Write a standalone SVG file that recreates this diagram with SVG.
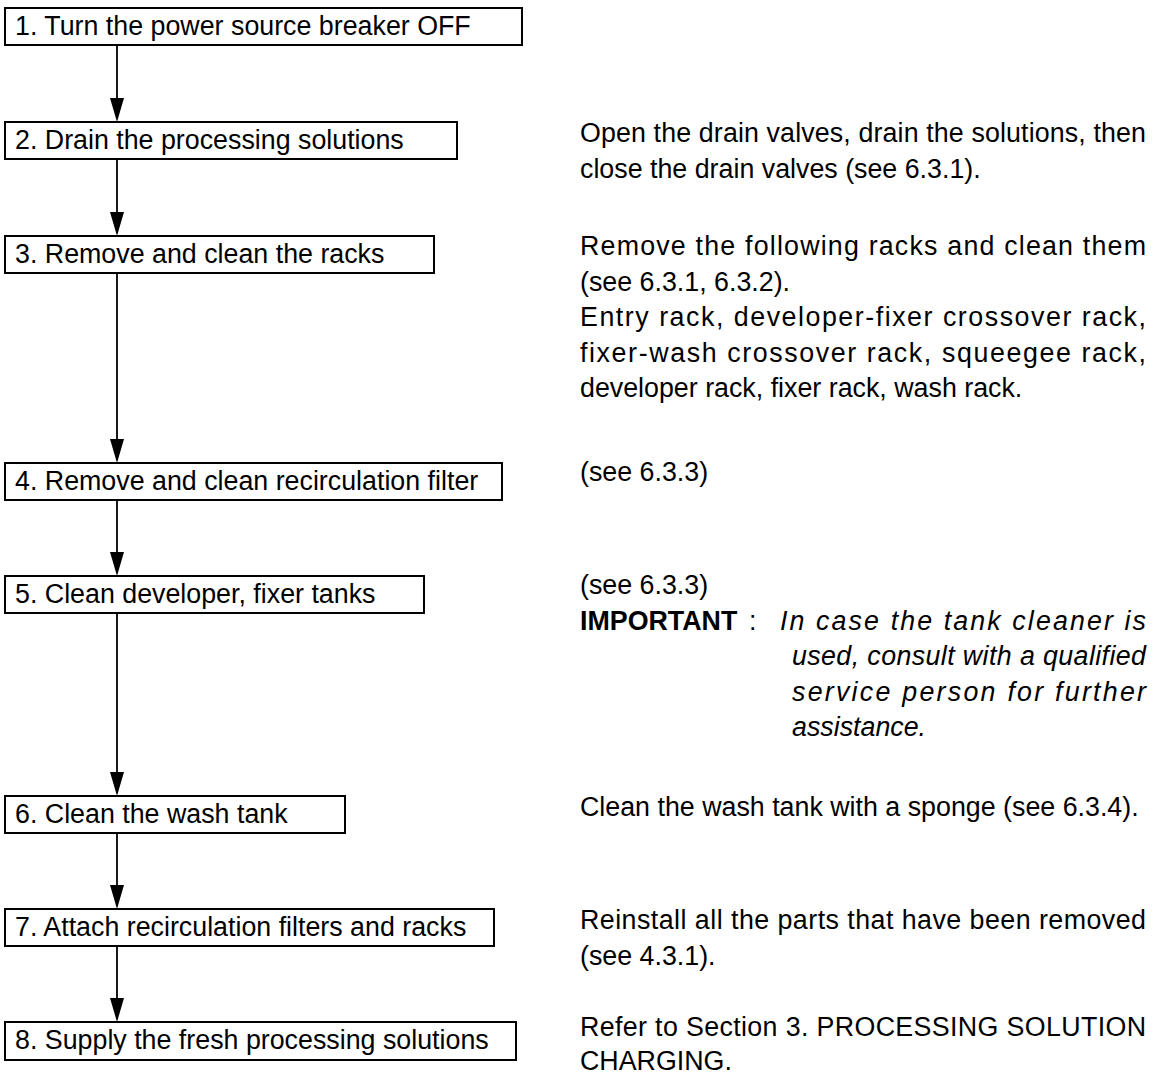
<svg xmlns="http://www.w3.org/2000/svg" width="1157" height="1076" viewBox="0 0 1157 1076">
<style>
.box{fill:#fff;stroke:#000;stroke-width:2}
.lbl{font-family:"Liberation Sans",Arial,sans-serif;font-size:26.8px;fill:#000}
.note{font-family:"Liberation Sans",Arial,sans-serif;font-size:26.8px;fill:#000}
.b{font-weight:bold}
.i{font-style:italic}
.conn line{stroke:#000;stroke-width:1.8}
.conn polygon{fill:#000}
</style>
<rect x="0" y="0" width="1157" height="1076" fill="#fff"/>
<g id="connectors" class="conn">
<line x1="117" y1="45" x2="117" y2="110"/><polygon points="117,122 110,98 124,98"/>
<line x1="117" y1="159" x2="117" y2="224"/><polygon points="117,236 110,212 124,212"/>
<line x1="117" y1="273" x2="117" y2="451"/><polygon points="117,463 110,439 124,439"/>
<line x1="117" y1="500" x2="117" y2="564"/><polygon points="117,576 110,552 124,552"/>
<line x1="117" y1="613" x2="117" y2="784"/><polygon points="117,796 110,772 124,772"/>
<line x1="117" y1="833" x2="117" y2="897"/><polygon points="117,909 110,885 124,885"/>
<line x1="117" y1="946" x2="117" y2="1010"/><polygon points="117,1022 110,998 124,998"/>
</g>
<g id="step1"><rect class="box" x="5" y="8" width="517" height="37"/><text class="lbl" x="15" y="35">1. Turn the power source breaker OFF</text></g>
<g id="step2"><rect class="box" x="5" y="122" width="452" height="37"/><text class="lbl" x="15" y="149">2. Drain the processing solutions</text></g>
<g id="step3"><rect class="box" x="5" y="236" width="429" height="37"/><text class="lbl" x="15" y="263">3. Remove and clean the racks</text></g>
<g id="step4"><rect class="box" x="5" y="463" width="497" height="37"/><text class="lbl" x="15" y="490">4. Remove and clean recirculation filter</text></g>
<g id="step5"><rect class="box" x="5" y="576" width="419" height="37"/><text class="lbl" x="15" y="603">5. Clean developer, fixer tanks</text></g>
<g id="step6"><rect class="box" x="5" y="796" width="340" height="37"/><text class="lbl" x="15" y="823">6. Clean the wash tank</text></g>
<g id="step7"><rect class="box" x="5" y="909" width="489" height="37"/><text class="lbl" x="15" y="936">7. Attach recirculation filters and racks</text></g>
<g id="step8"><rect class="box" x="5" y="1022" width="511" height="38"/><text class="lbl" x="15" y="1049">8. Supply the fresh processing solutions</text></g>
<g id="notes" class="note">
<text x="580" y="142" textLength="566">Open the drain valves, drain the solutions, then</text>
<text x="580" y="178">close the drain valves (see 6.3.1).</text>
<text x="580" y="255" textLength="566">Remove the following racks and clean them</text>
<text x="580" y="291">(see 6.3.1, 6.3.2).</text>
<text x="580" y="326" textLength="566">Entry rack, developer-fixer crossover rack,</text>
<text x="580" y="362" textLength="566">fixer-wash crossover rack, squeegee rack,</text>
<text x="580" y="397">developer rack, fixer rack, wash rack.</text>
<text x="580" y="481">(see 6.3.3)</text>
<text x="580" y="594">(see 6.3.3)</text>
<text x="580" y="630" class="b">IMPORTANT</text>
<text x="749" y="630">:</text>
<text x="780" y="630" class="i" textLength="366">In case the tank cleaner is</text>
<text x="792" y="665" class="i" textLength="354">used, consult with a qualified</text>
<text x="792" y="701" class="i" textLength="354">service person for further</text>
<text x="792" y="736" class="i">assistance.</text>
<text x="580" y="816">Clean the wash tank with a sponge (see 6.3.4).</text>
<text x="580" y="929" textLength="566">Reinstall all the parts that have been removed</text>
<text x="580" y="965">(see 4.3.1).</text>
<text x="580" y="1036" textLength="566">Refer to Section 3. PROCESSING SOLUTION</text>
<text x="580" y="1070">CHARGING.</text>
</g>
</svg>
